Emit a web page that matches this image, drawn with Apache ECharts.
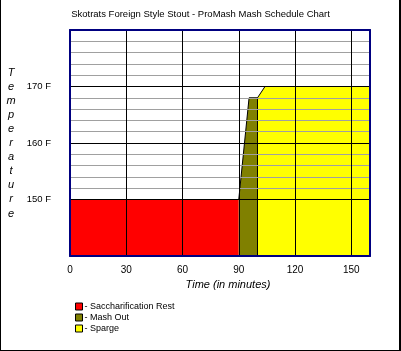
<!DOCTYPE html>
<html><head><meta charset="utf-8">
<script src="https://cdn.jsdelivr.net/npm/echarts@6/dist/echarts.min.js"></script>
<style>
html,body{margin:0;padding:0;background:#fff;}
#wrap{position:relative;width:401px;height:351px;}
#c{position:absolute;left:0;top:0;width:401px;height:351px;}
#frame{position:absolute;left:0;top:0;width:401px;height:351px;box-sizing:border-box;border-left:1px solid #000;border-right:2px solid #000;border-bottom:1px solid #000;pointer-events:none;}
</style></head>
<body><div id="wrap"><div id="c"></div><div id="frame"></div></div>
<script>
// Data (time in minutes, temperature in F)
const seriesNames = ['Saccharification Rest', 'Mash Out', 'Sparge'];
const seriesColors = ['#ff0000', '#808000', '#ffff00'];
const restTime = [0, 90];
const restTemp = [150, 150];
const mashOutTime = [90, 95.5, 100, 100];
const mashOutTemp = [150, 168, 168, 140];
const spargeTime = [100, 104, 160];
const spargeTemp = [168, 170, 170];
const xTicks = [0, 30, 60, 90, 120, 150];
const yTickLabels = [150, 160, 170];

const pts = (t, v) => t.map((x, i) => [x, v[i]]);
const FONT = 'Liberation Sans';

// split line colours: every 2 F from 140 to 180
const ySplitColors = [];
for (let v = 140; v <= 180; v += 2) {
  if (v === 140 || v === 180) ySplitColors.push('rgba(0,0,0,0)');
  else if (v % 10 === 0) ySplitColors.push('#000000');
  else if (v < 150) ySplitColors.push('rgba(0,0,0,0)');
  else ySplitColors.push('#a0a0a0');
}

const chart = echarts.init(document.getElementById('c'));
const mk = (i, t, v) => ({
  name: seriesNames[i], type: 'line', data: pts(t, v), showSymbol: false, symbol: 'none',
  color: seriesColors[i], z: 2,
  lineStyle: {color: '#000', width: 1},
  areaStyle: {color: seriesColors[i], opacity: 1},
  animation: false
});
chart.setOption({
  animation: false,
  title: {
    text: 'Skotrats Foreign Style Stout - ProMash Mash Schedule Chart',
    left: 'center', top: 4,
    textStyle: {fontFamily: FONT, fontSize: 9.5, fontWeight: 'normal', color: '#000'}
  },
  grid: {left: 70, right: 31, top: 30, bottom: 95},
  xAxis: [{
    type: 'value', min: 0, max: 160, interval: 30, z: 3,
    axisLine: {show: true, lineStyle: {color: '#000080', width: 2}},
    axisTick: {show: false},
    axisLabel: {margin: 9, color: '#000', fontFamily: FONT, fontSize: 10, showMaxLabel: false,
      formatter: v => xTicks.indexOf(v) >= 0 ? String(v) : ''},
    splitLine: {show: true, lineStyle: {color: '#000', width: 1}},
    name: 'Time (in minutes)', nameLocation: 'middle', nameGap: 20,
    nameTextStyle: {fontFamily: FONT, fontSize: 11, fontStyle: 'italic', color: '#000', padding: [0, 0, 0, 16]}
  }, {
    type: 'value', min: 0, max: 160, position: 'top', z: 4,
    axisLine: {show: true, onZero: false, lineStyle: {color: '#000080', width: 2}},
    axisTick: {show: false}, axisLabel: {show: false}, splitLine: {show: false}
  }],
  yAxis: [{
    type: 'value', min: 140, max: 180, interval: 2, z: 3,
    axisLine: {show: true, onZero: false, lineStyle: {color: '#000080', width: 2}},
    axisTick: {show: false},
    axisLabel: {margin: 19, color: '#000', fontFamily: FONT, fontSize: 9.5,
      formatter: v => yTickLabels.indexOf(v) >= 0 ? v + ' F' : ''},
    splitLine: {show: true, lineStyle: {color: ySplitColors, width: 1}},
    name: 'T\ne\nm\np\ne\nr\na\nt\nu\nr\ne', nameLocation: 'middle', nameGap: 59, nameRotate: 0,
    nameTextStyle: {fontFamily: FONT, fontSize: 11, fontStyle: 'italic', color: '#000', lineHeight: 14.1, align: 'center', padding: [6, 0, 0, 0]}
  }, {
    type: 'value', min: 140, max: 180, position: 'right', z: 4,
    axisLine: {show: true, onZero: false, lineStyle: {color: '#000080', width: 2}},
    axisTick: {show: false}, axisLabel: {show: false}, splitLine: {show: false}
  }],
  legend: {
    orient: 'vertical', left: 70, top: 296, itemWidth: 7, itemHeight: 7, itemGap: 0,
    selectedMode: false,
    formatter: n => '- ' + n,
    textStyle: {fontFamily: FONT, fontSize: 9, color: '#000', lineHeight: 11, padding: [0, 0, 0, -3]},
    data: seriesNames.map((n, i) => ({name: n, icon: 'rect',
      itemStyle: {color: seriesColors[i], borderColor: '#000', borderWidth: 1}}))
  },
  series: [mk(0, restTime, restTemp), mk(1, mashOutTime, mashOutTemp), mk(2, spargeTime, spargeTemp)]
});
</script></body></html>
